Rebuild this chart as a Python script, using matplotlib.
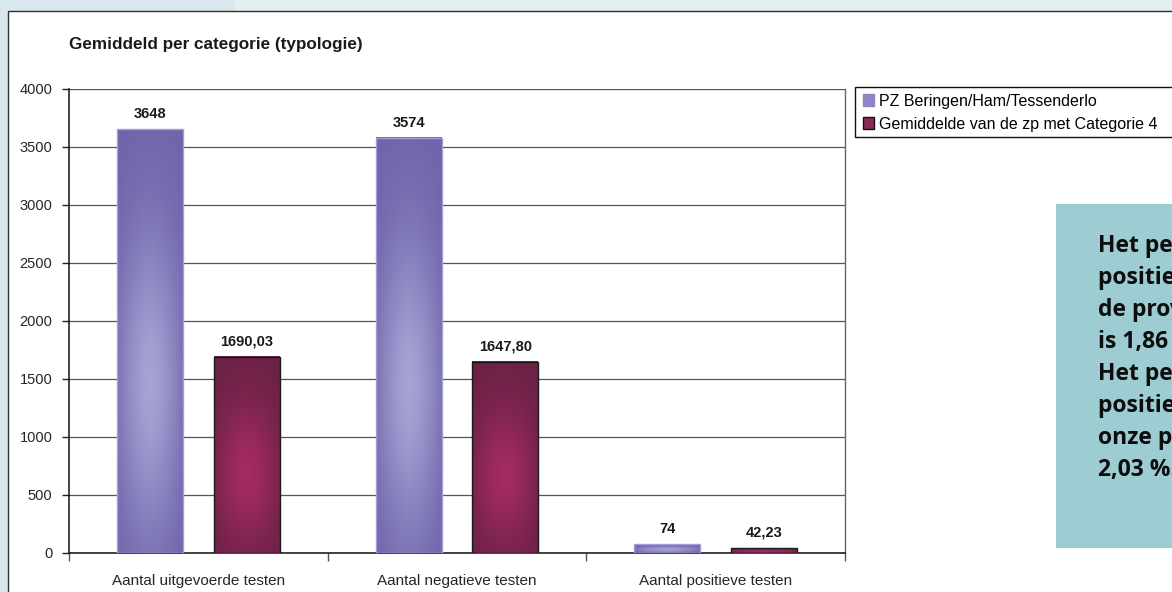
import numpy as np
import matplotlib
matplotlib.use("Agg")
import matplotlib.pyplot as plt
from matplotlib.patches import Rectangle

# data
categories = ['Aantal uitgevoerde testen', 'Aantal negatieve testen', 'Aantal positieve testen']
pz_values = [3648, 3574, 74]
avg_values = [1690.03, 1647.80, 42.23]
series_names = ['PZ Beringen/Ham/Tessenderlo', 'Gemiddelde van de zp met Categorie 4']
y_ticks = [0, 500, 1000, 1500, 2000, 2500, 3000, 3500, 4000]
note_lines = ['Het percentage', 'positieve testen in', 'de provincie Limburg', 'is 1,86 %.',
              'Het percentage', 'positieve testen in', 'onze politiezone is', '2,03 %.']

W, H = 1172, 592
plt.rcParams['font.family'] = ['Liberation Sans', 'DejaVu Sans']

fig = plt.figure(figsize=(W / 100, H / 100), dpi=100, facecolor='#d8e8ec')

def fx(px):
    return px / W

def fy(py):
    return 1 - py / H

# background pieces: lighter top strip and the white chart frame
fig.patches.append(Rectangle((fx(235), fy(11)), 1, 1, transform=fig.transFigure,
                             facecolor='#e3eff1', edgecolor='none', zorder=0.1))
fig.patches.append(Rectangle((fx(8), -0.1), 1.2, fy(11) + 0.1, transform=fig.transFigure,
                             facecolor='white', edgecolor='#2e2e2e', lw=1.0, zorder=0.2))

ax = fig.add_axes([fx(69), fy(553), fx(845) - fx(69), fy(88.5) - fy(553)])
ax.set_zorder(3)
ax.set_facecolor('none')

x = np.arange(len(categories))
bw = 0.255
off = 0.187

dark_p, light_p = np.array([0.43, 0.39, 0.67]), np.array([0.65, 0.64, 0.83])
dark_m, light_m = np.array([0.42, 0.13, 0.27]), np.array([0.64, 0.17, 0.39])

def shade(bar, dark, light):
    x0, w, h = bar.get_x(), bar.get_width(), bar.get_height()
    u = np.linspace(0, 1, 60)
    t = np.linspace(0, 1, 120)
    hp = 1 - np.abs(2 * u - 1) ** 1.6
    vp = np.exp(-((t - 0.40) / 0.36) ** 2)
    mix = (vp[:, None] * (0.25 + 0.75 * hp[None, :]))
    img = dark[None, None, :] + (light - dark)[None, None, :] * mix[:, :, None]
    ax.imshow(img, extent=[x0, x0 + w, 0, h], aspect='auto', origin='lower',
              interpolation='bilinear', zorder=3)

bars1 = ax.bar(x - off, pz_values, bw, color='#7466ad', edgecolor='#a49ed6', lw=1.0, zorder=4)
bars2 = ax.bar(x + off, avg_values, bw, color='#6e2348', edgecolor='#1a1a1a', lw=1.0, zorder=4)
for b in bars1:
    b.set_facecolor('none')
    shade(b, dark_p, light_p)
for b in bars2:
    b.set_facecolor('none')
    shade(b, dark_m, light_m)

for b, v in zip(bars1, pz_values):
    ax.annotate(f'{v}', (b.get_x() + b.get_width() / 2, v), xytext=(0, 6),
                textcoords='offset points', ha='center', va='bottom',
                fontsize=10.5, fontweight='bold', color='#1a1a1a', zorder=5)
for b, v in zip(bars2, avg_values):
    ax.annotate(f'{v:.2f}'.replace('.', ','), (b.get_x() + b.get_width() / 2, v), xytext=(0, 6),
                textcoords='offset points', ha='center', va='bottom',
                fontsize=10.5, fontweight='bold', color='#1a1a1a', zorder=5)

ax.set_xlim(-0.5, len(categories) - 0.5)
ax.set_ylim(0, 4000)
ax.set_yticks(y_ticks)
ax.set_yticklabels([str(v) for v in y_ticks], fontsize=10.5, color='#262626')
ax.yaxis.grid(True, color='#555555', lw=0.9, zorder=1)
ax.set_axisbelow(True)

ax.set_xticks(x)
ax.set_xticklabels(categories, fontsize=11, color='#262626')
ax.set_xticks(np.arange(len(categories) + 1) - 0.5, minor=True)
ax.tick_params(axis='x', which='major', length=0, pad=15)
ax.tick_params(axis='x', which='minor', length=6, width=1.0, color='#555555', direction='out')
ax.tick_params(axis='y', length=5, width=1.0, color='#222222', pad=7)

for s in ['left', 'bottom']:
    ax.spines[s].set_color('#111111')
    ax.spines[s].set_linewidth(1.1)
ax.spines['top'].set_visible(False)
ax.spines['right'].set_color('#666666')
ax.spines['right'].set_linewidth(1.0)

fig.text(fx(69), fy(45), 'Gemiddeld per categorie (typologie)', fontsize=12.3,
         fontweight='bold', color='#1a1a1a', ha='left', va='center')

# legend: frame runs on past the right edge, as in the cropped original
fig.patches.append(Rectangle((fx(855), fy(137)), 0.3, fy(87) - fy(137), transform=fig.transFigure,
                             facecolor='white', edgecolor='#111111', lw=1.0, zorder=4))
handles = [Rectangle((0, 0), 1, 1, facecolor='#8c86c4', edgecolor='#8c86c4'),
           Rectangle((0, 0), 1, 1, facecolor='#8a2a55', edgecolor='#111111')]
leg = fig.legend(handles, series_names, loc='upper left',
                 bbox_to_anchor=(fx(857), fy(88)), fontsize=11.5, frameon=False,
                 borderaxespad=0, borderpad=0.35,
                 handlelength=0.7, handleheight=0.7, handletextpad=0.3, labelspacing=0.5)
leg.set_zorder(6)

# note box on the right
fig.patches.append(Rectangle((fx(1056), fy(548)), 0.2, fy(204) - fy(548), transform=fig.transFigure,
                             facecolor='#9dcdd2', edgecolor='none', zorder=2))
for i, line in enumerate(note_lines):
    fig.text(fx(1098), fy(252 + i * 32), line, fontsize=16.5, fontweight='bold',
             family=['Open Sans', 'DejaVu Sans'], color='#0d0d0d', ha='left', va='baseline',
             zorder=3)

fig.savefig('out.png', dpi=100, facecolor=fig.get_facecolor())
